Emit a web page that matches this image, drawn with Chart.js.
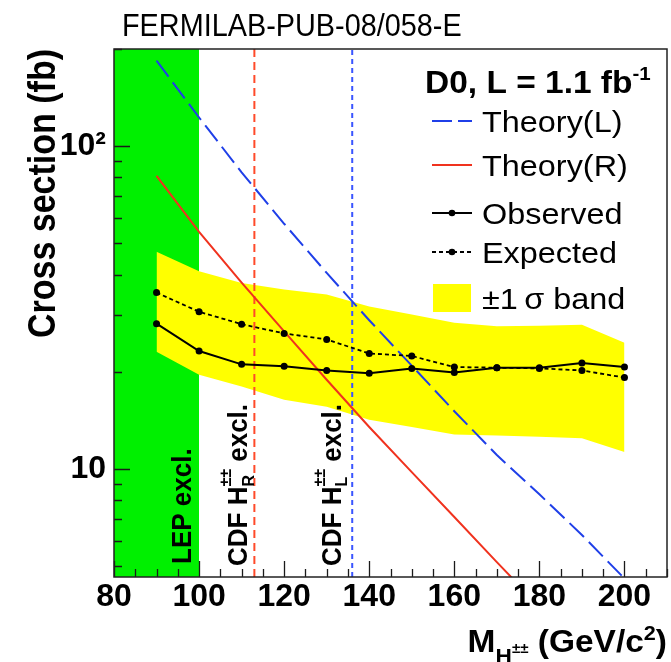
<!DOCTYPE html>
<html>
<head>
<meta charset="utf-8">
<title>Doubly charged Higgs boson cross-section limits</title>
<script src="https://cdn.jsdelivr.net/npm/chart.js@4.4.1/dist/chart.umd.min.js"></script>
<style>
  html, body { margin: 0; padding: 0; background: #ffffff; }
  #box { position: relative; width: 671px; height: 662px; }
  canvas { display: block; }
</style>
</head>
<body>
<div id="box"><canvas id="chart" width="671" height="662"></canvas></div>
<script>
// Mass points (GeV/c^2)
const masses = [90, 100, 110, 120, 130, 140, 150, 160, 170, 180, 190, 200];
// 95% C.L. upper limits on the pair-production cross section (fb)
const observed  = [28.2, 23.2, 21.1, 20.8, 20.2, 19.8, 20.5, 19.9, 20.6, 20.6, 21.3, 20.7];
const expected  = [35.2, 30.7, 28.1, 26.3, 25.2, 22.8, 22.4, 20.7, 20.6, 20.5, 20.2, 19.2];
const bandUpper = [47.1, 41.0, 37.7, 36.0, 34.7, 31.9, 30.1, 28.4, 27.7, 27.8, 28.0, 24.6];
const bandLower = [23.1, 19.6, 18.0, 16.4, 15.6, 14.2, 13.5, 12.8, 12.7, 12.6, 12.45, 11.3];
// NLO predictions for left- and right-handed H++ pair production (fb)
const theoryL = [184, 122.7, 83.0, 57.5, 40.5, 28.9, 20.9, 15.1, 11.05, 8.35, 6.25, 4.58];
const theoryR = [80.9, 54.3, 37.8, 26.7, 18.9, 13.5, 9.78, 7.10, 5.15, 3.75, 2.74, 2.0];
// Earlier exclusions (GeV/c^2)
const lepLimit = 100;
const cdfLimitR = 113;
const cdfLimitL = 136;
// Axis ranges and tick labels
const xMin = 80, xMax = 210;
const yMin = 4.63, yMax = 200;
const xTickValues = [80, 100, 120, 140, 160, 180, 200];
const yTickLabels = { 10: '10', 100: '10\u00B2' };

const FAMILY = '"Liberation Sans", Arial, Helvetica, sans-serif';
const fnt = (size, bold) => (bold ? 'bold ' : '') + size + 'px ' + FAMILY;

const pts = (vals) => masses.map((m, i) => ({ x: m, y: vals[i] }));
const vline = (m) => [{ x: m, y: yMin }, { x: m, y: yMax }];
const NONE = 'rgba(0,0,0,0)';

// Draws a run of text pieces (with sub/superscripts) along one baseline.
function drawRich(ctx, segs, x, y, opts) {
  const o = Object.assign({ align: 'left', angle: 0, stretch: 1, color: '#000' }, opts || {});
  let cursor = 0, prevStart = 0;
  const placed = [];
  for (const g of segs) {
    ctx.font = fnt(g.size, g.bold);
    const w = ctx.measureText(g.text).width;
    const start = g.stack ? prevStart : cursor;
    placed.push({ g, start });
    cursor = Math.max(cursor, start + w);
    prevStart = start;
  }
  const off = o.align === 'right' ? -cursor : (o.align === 'center' ? -cursor / 2 : 0);
  ctx.save();
  ctx.translate(x, y);
  ctx.rotate(o.angle);
  if (o.angle === 0) ctx.scale(o.stretch, 1); else ctx.scale(1, o.stretch);
  ctx.textAlign = 'left';
  ctx.textBaseline = 'alphabetic';
  ctx.fillStyle = o.color;
  for (const { g, start } of placed) {
    ctx.font = fnt(g.size, g.bold);
    ctx.fillText(g.text, off + start, g.dy || 0);
  }
  ctx.restore();
}

const decor = {
  id: 'decor',
  afterDatasetsDraw(chart) {
    const { ctx, chartArea: a, scales: { x, y } } = chart;
    ctx.save();

    // tick marks, drawn inside the frame
    ctx.strokeStyle = '#1a1a1a';
    ctx.lineWidth = 1.3;
    ctx.beginPath();
    for (let m = xMin; m <= xMax; m += 5) {
      const px = Math.round(x.getPixelForValue(m)) + 0.5;
      const len = (m % 20 === 0) ? 16 : 8;
      ctx.moveTo(px, a.bottom); ctx.lineTo(px, a.bottom - len);
    }
    for (let k = 0; k <= 2; k++) {
      for (let d = 1; d <= 9; d++) {
        const v = d * Math.pow(10, k);
        if (v < yMin || v > yMax) continue;
        const py = Math.round(y.getPixelForValue(v)) + 0.5;
        const len = d === 1 ? 16 : 8;
        ctx.moveTo(a.left, py); ctx.lineTo(a.left + len, py);
      }
    }
    ctx.stroke();

    // frame
    ctx.strokeStyle = '#222';
    ctx.lineWidth = 1.5;
    ctx.strokeRect(a.left, a.top, a.right - a.left, a.bottom - a.top);

    // vertical annotations
    const up = -Math.PI / 2;
    drawRich(ctx, [{ text: 'LEP excl.', size: 26, bold: true }],
      x.getPixelForValue(98.2), a.bottom - 13, { angle: up, stretch: 1.08 });
    const cdf = (lbl) => [
      { text: 'CDF H', size: 26, bold: true },
      { text: '\u00B1\u00B1', size: 16, bold: true, dy: -15 },
      { text: lbl, size: 16, bold: true, dy: 6, stack: true },
      { text: ' excl.', size: 26, bold: true }
    ];
    drawRich(ctx, cdf('R'), x.getPixelForValue(111.3), a.bottom - 11, { angle: up, stretch: 1.08 });
    drawRich(ctx, cdf('L'), x.getPixelForValue(133.3), a.bottom - 11, { angle: up, stretch: 1.08 });

    // legend
    const lx0 = a.right - 235, lx1 = a.right - 195, tx = a.right - 185;
    drawRich(ctx, [
      { text: 'D0, L = 1.1 fb', size: 31, bold: true },
      { text: '-1', size: 19, bold: true, dy: -13 }
    ], a.right - 242, a.top + 44, { stretch: 1.08 });

    const sample = (yy, color, dash, width) => {
      ctx.save();
      ctx.strokeStyle = color; ctx.lineWidth = width; ctx.setLineDash(dash);
      ctx.beginPath(); ctx.moveTo(lx0, yy); ctx.lineTo(lx1, yy); ctx.stroke();
      ctx.restore();
    };
    const dot = (yy) => {
      ctx.fillStyle = '#000';
      ctx.beginPath(); ctx.arc((lx0 + lx1) / 2, yy, 3.3, 0, Math.PI * 2); ctx.fill();
    };
    const entries = [
      { y: a.top + 72, label: 'Theory(L)' },
      { y: a.top + 116, label: 'Theory(R)' },
      { y: a.top + 164, label: 'Observed' },
      { y: a.top + 203, label: 'Expected' },
      { y: a.top + 249, label: '\u00B11\u2009\u03C3 band' }
    ];
    sample(entries[0].y, '#1f3fe8', [20, 6], 2);
    sample(entries[1].y, '#f0321e', [], 2);
    sample(entries[2].y, '#000', [], 2); dot(entries[2].y);
    sample(entries[3].y, '#000', [4, 3], 1.8); dot(entries[3].y);
    ctx.fillStyle = '#ffff00';
    ctx.fillRect(lx0 + 1, entries[4].y - 14, lx1 - lx0 - 2, 28);
    for (const e of entries) {
      drawRich(ctx, [{ text: e.label, size: 30 }], tx, e.y + 10.5, { stretch: 1.08 });
    }

    // axis titles
    drawRich(ctx, [{ text: 'Cross section (fb)', size: 34, bold: true }],
      55, a.top, { angle: up, align: 'right', stretch: 1.15 });
    drawRich(ctx, [
      { text: 'M', size: 31, bold: true },
      { text: 'H', size: 21, bold: true, dy: 11 },
      { text: '\u00B1\u00B1', size: 14, bold: true, dy: 1 },
      { text: ' (GeV/c', size: 31, bold: true },
      { text: '2', size: 20, bold: true, dy: -12 },
      { text: ')', size: 31, bold: true }
    ], a.right, 652, { align: 'right', stretch: 1.08 });

    // report number above the frame
    drawRich(ctx, [{ text: 'FERMILAB-PUB-08/058-E', size: 31 }], 122, 36, { stretch: 0.93 });

    ctx.restore();
  }
};

const tickFont = { family: FAMILY, size: 32, weight: 'bold' };

new Chart(document.getElementById('chart'), {
  type: 'line',
  data: {
    datasets: [
      { label: 'Observed', data: pts(observed), borderColor: '#000', borderWidth: 2,
        pointRadius: 3.5, pointBackgroundColor: '#000', pointBorderWidth: 0, order: 1 },
      { label: 'Expected', data: pts(expected), borderColor: '#000', borderWidth: 1.8, borderDash: [4, 3],
        pointRadius: 3.5, pointBackgroundColor: '#000', pointBorderWidth: 0, order: 2 },
      { label: 'Theory(L)', data: pts(theoryL), borderColor: '#1f3fe8', borderWidth: 2, borderDash: [20, 7],
        pointRadius: 0, order: 3 },
      { label: 'Theory(R)', data: pts(theoryR), borderColor: '#f0321e', borderWidth: 2,
        pointRadius: 0, order: 3 },
      { label: 'CDF H_R', data: vline(cdfLimitR), borderColor: '#ff4a2a', borderWidth: 2, borderDash: [8, 5],
        pointRadius: 0, order: 4 },
      { label: 'CDF H_L', data: vline(cdfLimitL), borderColor: '#3a55ff', borderWidth: 2, borderDash: [5, 4],
        pointRadius: 0, order: 4 },
      { label: '+1 sigma', data: pts(bandUpper), borderColor: NONE, borderWidth: 0, pointRadius: 0,
        backgroundColor: '#ffff00', fill: '+1', order: 5 },
      { label: '-1 sigma', data: pts(bandLower), borderColor: NONE, borderWidth: 0, pointRadius: 0,
        fill: false, order: 5 },
      { label: 'LEP', data: [{ x: xMin, y: yMax }, { x: lepLimit, y: yMax }], borderColor: NONE, borderWidth: 0,
        pointRadius: 0, backgroundColor: '#00f000', fill: 'start', order: 6 }
    ]
  },
  options: {
    responsive: false,
    devicePixelRatio: 1,
    animation: false,
    events: [],
    layout: { padding: { left: 0, top: 49, right: 4, bottom: 0 } },
    plugins: { legend: { display: false }, tooltip: { enabled: false } },
    scales: {
      x: {
        type: 'linear', min: xMin, max: xMax,
        afterBuildTicks: (s) => { s.ticks = xTickValues.map(v => ({ value: v })); },
        afterFit: (s) => { s.height = 85; },
        grid: { display: false, drawTicks: false },
        border: { display: false },
        ticks: { font: tickFont, color: '#000', padding: 1, maxRotation: 0, autoSkip: false }
      },
      y: {
        type: 'logarithmic', min: yMin, max: yMax,
        afterBuildTicks: (s) => { s.ticks = Object.keys(yTickLabels).map(v => ({ value: +v })); },
        afterFit: (s) => { s.width = 114; },
        grid: { display: false, drawTicks: false },
        border: { display: false },
        ticks: { font: tickFont, color: '#000', padding: 8, autoSkip: false,
          callback: (v) => yTickLabels[v] || '' }
      }
    }
  },
  plugins: [decor]
});
</script>
</body>
</html>
